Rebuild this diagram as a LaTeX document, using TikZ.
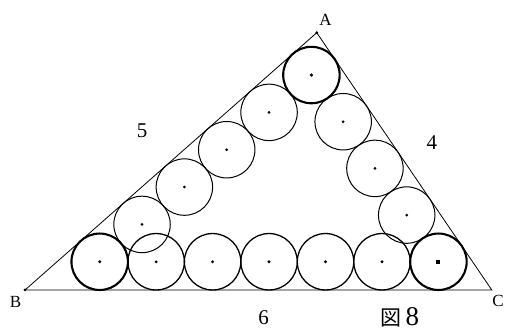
\documentclass[tikz,border=0pt]{standalone}
\usepackage{fontspec}
\setmainfont{Liberation Serif}
\newfontfamily\jpfont{Noto Sans CJK JP}
\usetikzlibrary{calc}
\begin{document}
\begin{tikzpicture}[x=77.8pt,y=77.8pt,
  tri/.style={line width=0.8pt},
  sidecirc/.style={line width=1.0pt},
  botcirc/.style={line width=1.3pt},
  cornercirc/.style={line width=2.1pt},
  ctr/.style={fill=black},
  lab/.style={font=\fontsize{17}{17}\selectfont, inner sep=0pt},
  num/.style={font=\fontsize{21}{21}\selectfont, inner sep=0pt}]
\useasboundingbox (-0.3213,-0.527) rectangle (6.1825,3.7275);
\def\r{0.362855}
\coordinate (B) at (0,0);
\coordinate (C) at (6,0);
\coordinate (A) at (3.75,3.307189);
\draw[tri] (B) -- (C) -- (A) -- cycle;
\fill (A) circle (1.5pt);
\fill (B) circle (1.5pt);
% bottom row
\foreach \k in {0,...,6} {
  \coordinate (b\k) at ({0.960026+0.72571*\k},\r);
}
\foreach \k in {1,...,5} {
  \draw[botcirc] (b\k) circle (\r);
  \fill[ctr] (b\k) circle (1.6pt);
}
\draw[cornercirc] (b0) circle (\r);
\fill[ctr] (b0) circle (1.6pt);
\draw[cornercirc] (b6) circle (\r);
\fill[ctr] ($(b6)+(-2pt,-2pt)$) rectangle ($(b6)+(2pt,2pt)$);
% corner A
\coordinate (a0) at (3.681428,2.762907);
\draw[cornercirc] (a0) circle (\r);
\fill[ctr] (a0) circle (1.8pt);
% along AB
\foreach \k in {1,...,4} {
  \pgfmathsetmacro\t{0.411437+0.72571*\k}
  \coordinate (l\k) at ({3.75-0.75*\t+0.240006},{3.307189-0.661438*\t-0.272141});
  \draw[sidecirc] (l\k) circle (\r);
  \fill[ctr] (l\k) circle (1.5pt);
}
% along AC
\foreach \k in {1,...,3} {
  \pgfmathsetmacro\t{0.411437+0.72571*\k}
  \coordinate (m\k) at ({3.75+0.5625*\t-0.300006},{3.307189-0.826797*\t-0.204106});
  \draw[sidecirc] (m\k) circle (\r);
  \fill[ctr] (m\k) circle (1.5pt);
}
\node[lab] (lA) at (3.862,3.470) {A};
\node[lab] (lB) at (-0.122,-0.148) {B};
\node[lab] (lC) at (6.08,-0.141) {C};
\node[num] (l5) at (1.504,2.044) {5};
\node[num] (l4) at (5.23,1.89) {4};
\node[num] (l6) at (3.066,-0.36) {6};
\node[inner sep=0pt] (fig) at (4.82,-0.347) {{\jpfont\fontsize{21}{21}\selectfont 図}\hspace{4pt}{\fontsize{27}{27}\selectfont 8}};
\end{tikzpicture}
\end{document}
